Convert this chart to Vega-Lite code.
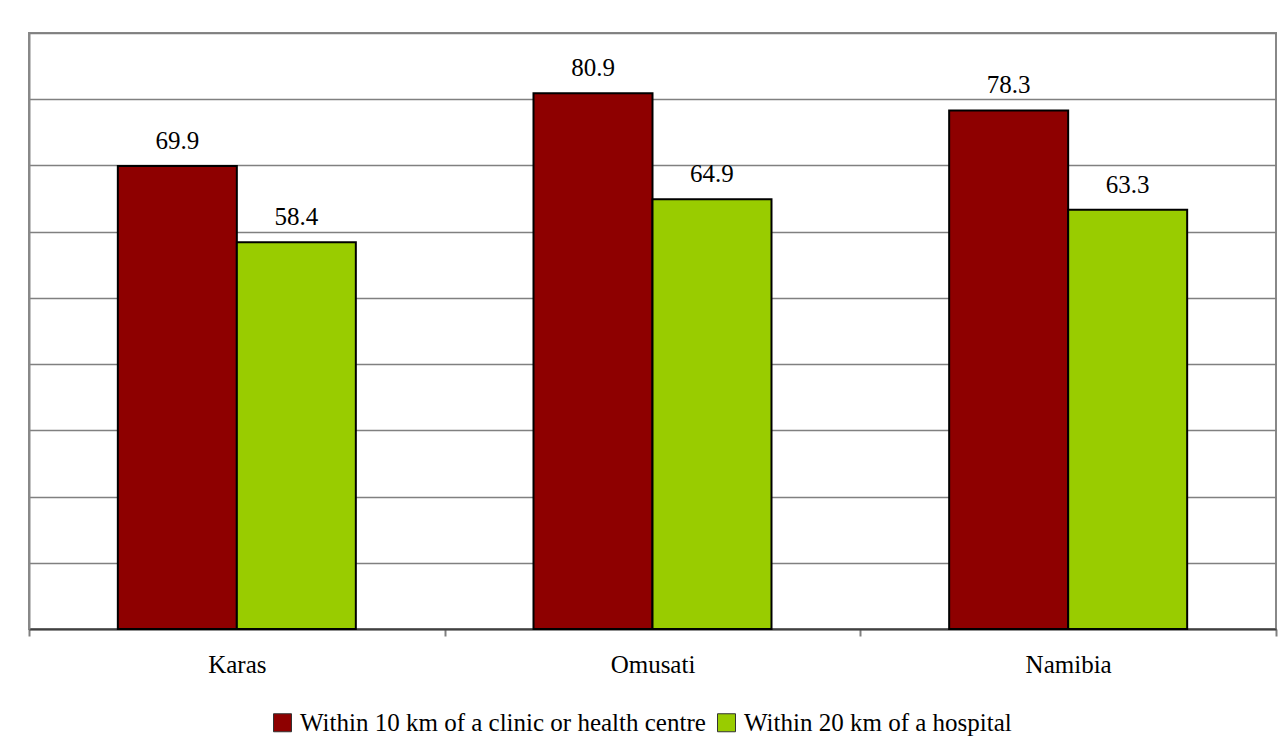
{
  "$schema": "https://vega.github.io/schema/vega-lite/v6.json",
  "width": 1247,
  "height": 596,
  "autosize": {"type": "none"},
  "padding": {"left": 29, "top": 33, "right": 10, "bottom": 113},
  "background": "white",
  "data": {
    "values": [
      {"region": "Karas", "measure": "Within 10 km of a clinic or health centre", "value": 69.9},
      {"region": "Karas", "measure": "Within 20 km of a hospital", "value": 58.4},
      {"region": "Omusati", "measure": "Within 10 km of a clinic or health centre", "value": 80.9},
      {"region": "Omusati", "measure": "Within 20 km of a hospital", "value": 64.9},
      {"region": "Namibia", "measure": "Within 10 km of a clinic or health centre", "value": 78.3},
      {"region": "Namibia", "measure": "Within 20 km of a hospital", "value": 63.3}
    ]
  },
  "encoding": {
    "x": {
      "field": "region",
      "type": "nominal",
      "sort": ["Karas", "Omusati", "Namibia"],
      "scale": {"paddingInner": 0, "paddingOuter": 0},
      "axis": {
        "title": null,
        "labelAngle": 0,
        "labelFont": "Liberation Serif",
        "labelFontSize": 25,
        "labelColor": "black",
        "labelBaseline": "alphabetic",
        "labelPadding": 36,
        "tickBand": "extent",
        "tickSize": 7,
        "tickColor": "#808080",
        "tickWidth": 2,
        "domainColor": "#404040",
        "domainWidth": 2,
        "grid": false
      }
    },
    "xOffset": {
      "field": "measure",
      "type": "nominal",
      "sort": ["Within 10 km of a clinic or health centre", "Within 20 km of a hospital"],
      "scale": {"paddingInner": 0, "paddingOuter": 0.7465}
    },
    "y": {
      "field": "value",
      "type": "quantitative",
      "scale": {"domain": [0, 90], "nice": false},
      "axis": {
        "title": null,
        "labels": false,
        "ticks": false,
        "values": [0, 10, 20, 30, 40, 50, 60, 70, 80, 90],
        "grid": true,
        "gridColor": "#808080",
        "gridWidth": 1.5,
        "domainColor": "#888888",
        "domainWidth": 2
      }
    }
  },
  "layer": [
    {
      "mark": {"type": "bar", "stroke": "black", "strokeWidth": 2},
      "encoding": {
        "color": {
          "field": "measure",
          "type": "nominal",
          "sort": ["Within 10 km of a clinic or health centre", "Within 20 km of a hospital"],
          "scale": {
            "domain": ["Within 10 km of a clinic or health centre", "Within 20 km of a hospital"],
            "range": ["#8E0000", "#99CC00"]
          },
          "legend": {
            "title": null,
            "orient": "none",
            "legendX": 241,
            "legendY": 677,
            "direction": "horizontal",
            "padding": 0,
            "labelFont": "Liberation Serif",
            "labelFontSize": 25,
            "labelColor": "black",
            "labelLimit": 0,
            "symbolType": "square",
            "symbolSize": 324,
            "symbolStrokeColor": "#333333",
            "symbolStrokeWidth": 1,
            "symbolOpacity": 1,
            "labelOffset": 5,
            "columnPadding": 8
          }
        }
      }
    },
    {
      "mark": {
        "type": "text",
        "font": "Liberation Serif",
        "fontSize": 25,
        "color": "black",
        "baseline": "alphabetic",
        "dy": -17
      },
      "encoding": {
        "text": {"field": "value", "type": "quantitative", "format": ".1f"}
      }
    }
  ],
  "config": {
    "view": {"stroke": "#888888", "strokeWidth": 2}
  }
}
